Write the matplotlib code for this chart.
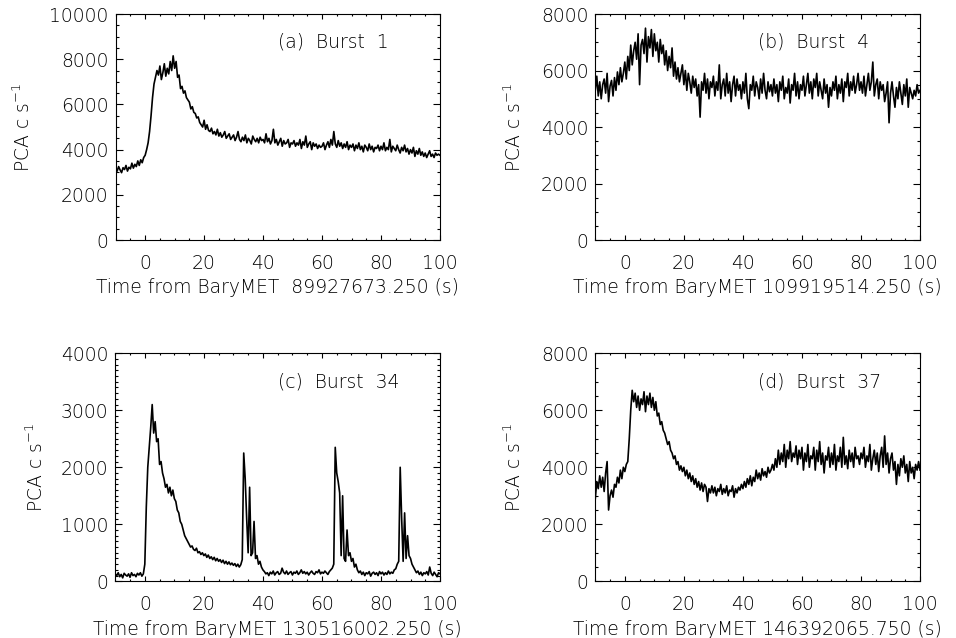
import numpy as np
import matplotlib
matplotlib.use("Agg")
import matplotlib.pyplot as plt
from matplotlib.ticker import MultipleLocator

plt.rcParams['font.family'] = ['DejaVu Sans']
plt.rcParams['font.weight'] = 200
plt.rcParams['axes.labelweight'] = 200
plt.rcParams['mathtext.default'] = 'regular'

# light curves, 0.5 s bins from -10 s to 100 s (PCA count rate, c/s)
time = np.arange(-10.0, 100.25, 0.5)

burst1 = [
    3150, 3050, 3250, 3100, 2980, 3200, 3120, 3300, 3050, 3220, 3150, 3400, 3180, 3350, 3250, 3500, 3300, 3550, 3420, 3650,
    3750, 4000, 4300, 4800, 5500, 6300, 6900, 7200, 7500, 7300, 7700, 7100, 7400, 7800, 7250, 7600, 7350, 7900, 7500, 8150,
    7600, 7900, 7200, 7300, 6700, 6800, 6500, 6600, 6300, 6200, 6100, 5800, 5900, 5650, 5600, 5400, 5450, 5200, 5100, 5000,
    5300, 4900, 5100, 4850, 4800, 4950, 4700, 4800, 4650, 4900, 4600, 4750, 4550, 4650, 4800, 4500, 4600, 4700, 4450, 4550,
    4650, 4400, 4550, 4800, 4450, 4350, 4550, 4400, 4650, 4300, 4500, 4400, 4250, 4600, 4450, 4350, 4500, 4300, 4550, 4400,
    4450, 4300, 4700, 4350, 4500, 4250, 4400, 4900, 4300, 4450, 4200, 4350, 4500, 4150, 4400, 4250, 4300, 4450, 4100, 4300,
    4250, 4400, 4150, 4300, 4200, 4450, 4050, 4350, 4200, 4600, 4100, 4250, 4350, 4000, 4300, 4150, 4250, 4050, 4200, 4100,
    4150, 4300, 4000, 4200, 4350, 4100, 4450, 4200, 4800, 4250, 4100, 4400, 4150, 4300, 4050, 4250, 4100, 4350, 4000, 4200,
    4100, 4250, 3950, 4200, 4050, 4300, 4000, 4150, 3900, 4200, 4100, 3950, 4250, 4000, 4150, 3900, 4100, 4050, 4200, 3950,
    4150, 4000, 4300, 3950, 4100, 4000, 4450, 3900, 4150, 4050, 3950, 4200, 4000, 3850, 4100, 3950, 4200, 3900, 4050, 3800,
    4000, 3850, 4100, 3700, 3950, 3800, 4050, 3750, 3900, 3700, 3850, 3650, 3800, 3950, 3700, 3800, 3650, 3850, 3750, 3800,
    3750,
]

burst4 = [
    5300, 5800, 5100, 5600, 5000, 5500, 5700, 5200, 5900, 4900, 5450, 5650, 5100, 5750, 5300, 5950, 5500, 6100, 5600, 5900,
    6300, 5700, 6500, 6000, 6900, 6200, 6700, 7000, 6400, 7300, 5500, 6900, 7100, 6600, 7500, 6300, 7200, 6800, 7450, 6500,
    7300, 6700, 7000, 6300, 7100, 6600, 6900, 6200, 6700, 6000, 6500, 6100, 6800, 5800, 6300, 5700, 6100, 5600, 5900, 6200,
    5500, 6000, 5300, 5900, 5600, 5200, 5800, 5400, 5700, 5100, 5500, 4350, 5600, 5300, 5900, 5200, 5700, 5000, 5600, 5400,
    5800, 5100, 5600, 5300, 6200, 5000, 5500, 5700, 5100, 5900, 5200, 5600, 4900, 5500, 5800, 5100, 5700, 5300, 5500, 5000,
    5600, 5200, 5900, 5000, 4650, 5500, 5300, 5800, 5100, 5600, 5400, 5000, 5700, 5200, 5900, 5300, 5000, 5600, 5250, 5500,
    5100, 5700, 5200, 5500, 4900, 5600, 5300, 5800, 5000, 5400, 5200, 5700, 4850, 5500, 5300, 5900, 5100, 5600, 5000, 5500,
    5300, 5800, 5100, 5500, 5900, 5200, 5600, 5000, 5700, 5400, 5900, 5100, 5600, 5300, 5000, 5700, 5200, 5500, 4700, 5400,
    5100, 5600, 5300, 5800, 5000, 5500, 5200, 5700, 4900, 5600, 5400, 5900, 5100, 5600, 5300, 5800, 5200, 5500, 5900, 5300,
    5600, 5200, 5800, 5100, 5500, 5900, 5300, 5600, 6300, 5100, 5500, 5700, 5000, 5600, 5300, 5500, 4900, 5200, 5600, 4150,
    5200, 5600, 5100, 4700, 5400, 5000, 5600, 5200, 4800, 5500, 5100, 5700, 4700, 5400, 5200, 5000, 5300, 5100, 5500, 5200,
    5300,
]

burst34 = [
    130, 100, 150, 80, 120, 60, 140, 110, 90, 130, 70, 150, 100, 120, 80, 140, 110, 150, 90, 130,
    300, 1300, 2000, 2350, 2700, 3100, 2600, 2800, 2450, 2500, 2050, 2100, 1900, 1800, 1650, 1700, 1550, 1650, 1500, 1600,
    1450, 1400, 1250, 1200, 1050, 1000, 900, 800, 750, 700, 650, 600, 620, 560, 540, 580, 500, 520, 470, 500,
    450, 480, 420, 460, 400, 430, 380, 420, 360, 400, 350, 380, 330, 370, 310, 350, 300, 340, 290, 320,
    280, 310, 260, 300, 250, 290, 380, 2250, 1800, 1100, 500, 1650, 450, 500, 1050, 400, 450, 300, 350, 250,
    200, 170, 130, 150, 100, 160, 130, 180, 110, 150, 170, 120, 140, 230, 160, 130, 180, 120, 150, 170,
    110, 160, 140, 180, 120, 150, 200, 140, 170, 130, 160, 110, 150, 180, 140, 120, 170, 150, 200, 130,
    160, 140, 180, 150, 120, 170, 200, 230, 300, 2350, 1900, 1750, 1550, 450, 1500, 400, 350, 900, 450, 500,
    350, 400, 250, 300, 200, 150, 180, 120, 160, 100, 150, 130, 170, 90, 140, 160, 120, 150, 100, 170,
    130, 160, 110, 150, 120, 180, 130, 160, 140, 200, 220, 300, 350, 2000, 1100, 350, 1200, 400, 800, 450,
    400, 300, 250, 200, 150, 180, 120, 160, 100, 150, 130, 170, 110, 250, 140, 100, 160, 120, 80, 150,
    130,
]

burst37 = [
    2900, 3500, 3250, 3700, 3300, 3650, 3150, 3800, 4200, 2500, 3000, 3200, 2950, 3400, 3300, 3650, 3450, 3900, 3600, 4000,
    3850, 4100, 4200, 5000, 6000, 6700, 6300, 6600, 6100, 6500, 6000, 6400, 6200, 6650, 5950, 6500, 6200, 6600, 6100, 6450,
    6000, 6300, 5800, 5900, 5500, 5600, 5300, 5200, 5000, 4800, 4900, 4600, 4500, 4300, 4400, 4100, 4200, 3900, 4050, 3850,
    4000, 3700, 3900, 3600, 3800, 3500, 3700, 3400, 3600, 3300, 3500, 3200, 3450, 3150, 3400, 3300, 2800, 3250, 3100, 3350,
    3100, 3300, 3000, 3250, 3150, 3400, 3050, 3250, 3100, 3350, 3000, 3200, 3150, 3350, 2950, 3250, 3100, 3300, 3200, 3400,
    3250, 3500, 3300, 3600, 3400, 3700, 3350, 3650, 3500, 3900, 3600, 3800, 3550, 3950, 3700, 3850, 3650, 4000, 3800, 3900,
    4100, 3900, 4300, 4000, 4600, 4100, 4500, 4200, 4800, 4000, 4600, 4300, 4900, 4200, 4500, 4350, 4750, 4100, 4600, 4300,
    4700, 3900, 4500, 4200, 4800, 4000, 4400, 4300, 4700, 3900, 4600, 4200, 4900, 4100, 4500, 3800, 4400, 4250, 4700, 4000,
    4500, 4100, 4800, 3900, 4400, 4200, 4700, 4000, 5050, 4100, 4400, 3950, 4600, 4200, 4500, 4000, 4700, 4300, 4400, 4100,
    4500, 4300, 4700, 4000, 4400, 4200, 4800, 3900, 4300, 4600, 4100, 4500, 3850, 4400, 4700, 4000, 5100, 4100, 4500, 3800,
    4300, 4500, 3900, 4200, 3400, 4100, 3700, 4300, 4000, 4400, 3800, 4100, 3500, 4200, 3800, 4000, 3600, 4100, 3900, 4200,
    3900,
]

labels = ['(a)  Burst  1', '(b)  Burst  4', '(c)  Burst  34', '(d)  Burst  37']
xlabels = ['Time from BaryMET  89927673.250 (s)',
           'Time from BaryMET 109919514.250 (s)',
           'Time from BaryMET 130516002.250 (s)',
           'Time from BaryMET 146392065.750 (s)']
ymax = [10000, 8000, 4000, 8000]
ymajor = [2000, 2000, 1000, 2000]
yminor = [500, 500, 100, 500]

rates = [burst1, burst4, burst34, burst37]
positions = [(0.1210, 0.6238, 0.3392, 0.3542),
             (0.6227, 0.6238, 0.3397, 0.3542),
             (0.1206, 0.0889, 0.3397, 0.3574),
             (0.6227, 0.0889, 0.3397, 0.3574)]
ylab_x = [-0.252, -0.217, -0.210, -0.217]
fs = 13.5

fig = plt.figure(figsize=(9.56, 6.38), dpi=100)

for i in range(4):
    ax = fig.add_axes(positions[i])
    ax.plot(time, rates[i], color='black', lw=1.2)
    ax.set_xlim(-10, 100)
    ax.set_ylim(0, ymax[i])
    ax.xaxis.set_major_locator(MultipleLocator(20))
    ax.xaxis.set_minor_locator(MultipleLocator(5))
    ax.yaxis.set_major_locator(MultipleLocator(ymajor[i]))
    ax.yaxis.set_minor_locator(MultipleLocator(yminor[i]))
    ax.tick_params(which='both', direction='in', top=True, right=True,
                   width=0.8, labelsize=fs, labelcolor='black')
    ax.tick_params(axis='x', which='major', length=3.3, pad=10)
    ax.tick_params(axis='x', which='minor', length=1.7)
    ax.tick_params(axis='y', which='major', length=4.7, pad=5)
    ax.tick_params(axis='y', which='minor', length=2.3)
    for sp in ax.spines.values():
        sp.set_linewidth(0.8)
    ax.set_xlabel(xlabels[i], fontsize=fs, labelpad=4)
    ax.set_ylabel('PCA c s$^{-1}$', fontsize=fs)
    ax.yaxis.set_label_coords(ylab_x[i], 0.5)
    ax.text(0.50, 0.875, labels[i], transform=ax.transAxes,
            fontsize=fs, ha='left', va='center', color='black')

fig.savefig('out.png', dpi=100)
